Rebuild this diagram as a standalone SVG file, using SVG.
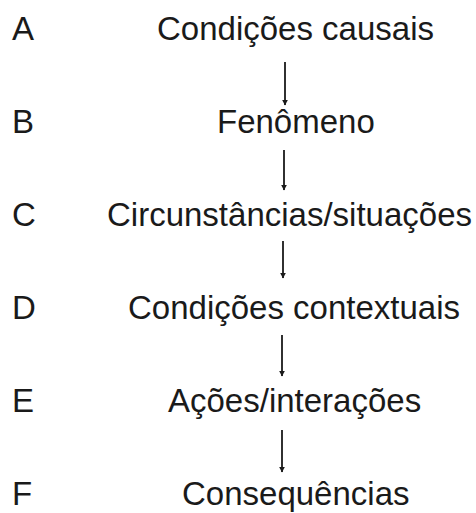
<svg xmlns="http://www.w3.org/2000/svg" width="476" height="513" viewBox="0 0 476 513">
<style>
text{font-family:"Liberation Sans",Arial,sans-serif;font-size:33px;fill:#1a1a1a}
.c{stroke:#1a1a1a;stroke-width:1.8;fill:none}
</style>
<defs>
<marker id="ah" viewBox="0 0 10 10" refX="9" refY="5" markerWidth="6" markerHeight="7" orient="auto" markerUnits="userSpaceOnUse">
<path d="M0,0 L10,5 L0,10 z" fill="#1a1a1a"/>
</marker>
</defs>
<rect width="476" height="513" fill="#fff"/>
<g id="labels">
<text x="12" y="40">A</text>
<text x="12" y="133">B</text>
<text x="12" y="226">C</text>
<text x="12" y="319">D</text>
<text x="12" y="412">E</text>
<text x="12" y="505">F</text>
</g>
<g id="nodeA"><text x="157" y="40">Condições causais</text></g>
<g id="nodeB"><text x="217" y="133">Fenômeno</text></g>
<g id="nodeC"><text x="107" y="226">Circunstâncias/situações</text></g>
<g id="nodeD"><text x="128" y="319">Condições contextuais</text></g>
<g id="nodeE"><text x="168" y="412">Ações/interações</text></g>
<g id="nodeF"><text x="182" y="505">Consequências</text></g>
<g id="connectors">
<line class="c" x1="285" y1="62" x2="285" y2="105" marker-end="url(#ah)"/>
<line class="c" x1="284" y1="150" x2="284" y2="190" marker-end="url(#ah)"/>
<line class="c" x1="283" y1="241" x2="283" y2="278" marker-end="url(#ah)"/>
<line class="c" x1="282" y1="335" x2="282" y2="376" marker-end="url(#ah)"/>
<line class="c" x1="282" y1="430" x2="282" y2="472" marker-end="url(#ah)"/>
</g>
</svg>
